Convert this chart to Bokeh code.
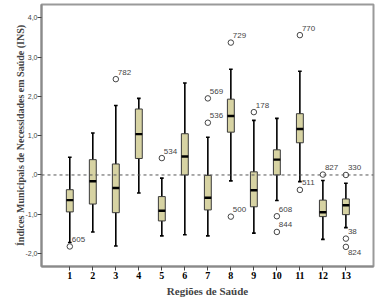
from bokeh.plotting import figure
from bokeh.models import FixedTicker, Span, ColumnDataSource
from bokeh.core.properties import value
from bokeh.embed import file_html
from bokeh.resources import INLINE

regions = [1, 2, 3, 4, 5, 6, 7, 8, 9, 10, 11, 12, 13]
lower = [-1.72, -1.45, -1.81, -0.46, -1.55, -1.52, -1.55, -0.15, -1.48, -0.65, -0.17, -1.64, -1.34]
q1 = [-0.94, -0.74, -0.96, 0.42, -1.17, 0.00, -0.89, 1.09, -0.81, 0.00, 0.82, -1.06, -1.01]
median = [-0.64, -0.16, -0.33, 1.04, -0.91, 0.47, -0.58, 1.50, -0.39, 0.39, 1.17, -0.95, -0.77]
q3 = [-0.375, 0.39, 0.28, 1.68, -0.55, 1.05, -0.01, 1.93, 0.08, 0.64, 1.56, -0.64, -0.61]
upper = [0.45, 1.07, 1.77, 1.95, -0.08, 2.34, 0.96, 2.69, 1.39, 1.44, 2.64, -0.14, -0.21]

out_region = [1, 3, 5, 7, 7, 8, 8, 9, 10, 10, 11, 11, 12, 13, 13, 13]
out_value = [-1.82, 2.44, 0.43, 1.95, 1.33, 3.37, -1.06, 1.60, -1.05, -1.45, 3.56, -0.38, 0.01, 0.00, -1.62, -1.83]
out_label = ["605", "782", "534", "569", "536", "729", "500", "178", "608", "844", "770", "511", "827", "330", "38", "824"]

y_ticks = [-2, -1, 0, 1, 2, 3, 4]
y_tick_labels = ["-2,0", "-1,0", ",0", "1,0", "2,0", "3,0", "4,0"]

labels_below = {"824"}

p = figure(width=379, height=304, x_range=(-0.23, 14.2), y_range=(-2.33, 4.34),
           output_backend="svg", toolbar_location=None,
           min_border_left=41, min_border_right=6, min_border_top=4, min_border_bottom=38)
p.background_fill_color = "white"
p.border_fill_color = "white"
p.outline_line_color = "#9a9a9a"
p.outline_line_width = 2
p.grid.visible = False

zero = Span(location=0, dimension="width", line_color="#555555", line_dash="3 3", line_width=1)
p.add_layout(zero)

src = ColumnDataSource(dict(x=regions, lower=lower, q1=q1, median=median, q3=q3, upper=upper))
cap = 0.08
p.segment(x0="x", y0="lower", x1="x", y1="upper", source=src, line_color="black", line_width=1.6)
capsrc = ColumnDataSource(dict(x0=[r - cap for r in regions], x1=[r + cap for r in regions],
                               lower=lower, upper=upper))
p.segment(x0="x0", y0="lower", x1="x1", y1="lower", source=capsrc, line_color="black", line_width=1.6)
p.segment(x0="x0", y0="upper", x1="x1", y1="upper", source=capsrc, line_color="black", line_width=1.6)
p.vbar(x="x", bottom="q1", top="q3", width=0.3, source=src, fill_color="#D7D3A3",
       line_color="#3a3a3a", line_width=1)
medsrc = ColumnDataSource(dict(x0=[r - 0.15 for r in regions], x1=[r + 0.15 for r in regions], m=median))
p.segment(x0="x0", y0="m", x1="x1", y1="m", source=medsrc, line_color="black", line_width=2.4)

osrc = ColumnDataSource(dict(x=out_region, y=out_value, t=out_label,
                             dy=[6 if t in labels_below else -7 for t in out_label]))
p.scatter(x="x", y="y", source=osrc, marker="circle", size=5.5, fill_color="white",
          line_color="#444444", line_width=1)
p.text(x="x", y="y", text="t", source=osrc, x_offset=2, y_offset="dy",
       text_font_size=value("8px"), text_color=value("#444444"), text_baseline=value("middle"),
       text_font=value("Liberation Sans"))

p.xaxis.ticker = FixedTicker(ticks=regions)
p.xaxis.major_label_text_font = "Liberation Serif"
p.xaxis.major_label_text_font_style = "bold"
p.xaxis.major_label_text_font_size = "10px"
p.xaxis.major_label_text_color = "black"
p.xaxis.major_label_standoff = 1
p.xaxis.axis_label = "Regiões de Saúde"
p.xaxis.axis_label_text_font = "Liberation Serif"
p.xaxis.axis_label_text_font_style = "bold"
p.xaxis.axis_label_text_font_size = "11px"
p.xaxis.axis_label_standoff = 3

p.yaxis.ticker = FixedTicker(ticks=y_ticks)
p.yaxis.major_label_overrides = {t: l for t, l in zip(y_ticks, y_tick_labels)}
p.yaxis.major_label_text_font = "Liberation Sans"
p.yaxis.major_label_text_font_size = "7px"
p.yaxis.major_label_text_color = "#444444"
p.yaxis.major_label_standoff = 0
p.yaxis.axis_label = "Índices Municipais de Necessidades em Saúde (INS)"
p.yaxis.axis_label_text_font = "Liberation Serif"
p.yaxis.axis_label_text_font_style = "bold"
p.yaxis.axis_label_text_font_size = "10px"
p.yaxis.axis_label_standoff = -4

for ax in (p.xaxis, p.yaxis):
    ax.axis_line_color = "#8a8a8a"
    ax.axis_line_width = 2
    ax.major_tick_line_color = "#444444"
    ax.major_tick_out = 4
    ax.major_tick_in = 0
    ax.minor_tick_line_color = None

open("out.html", "w").write(file_html(p, INLINE))
